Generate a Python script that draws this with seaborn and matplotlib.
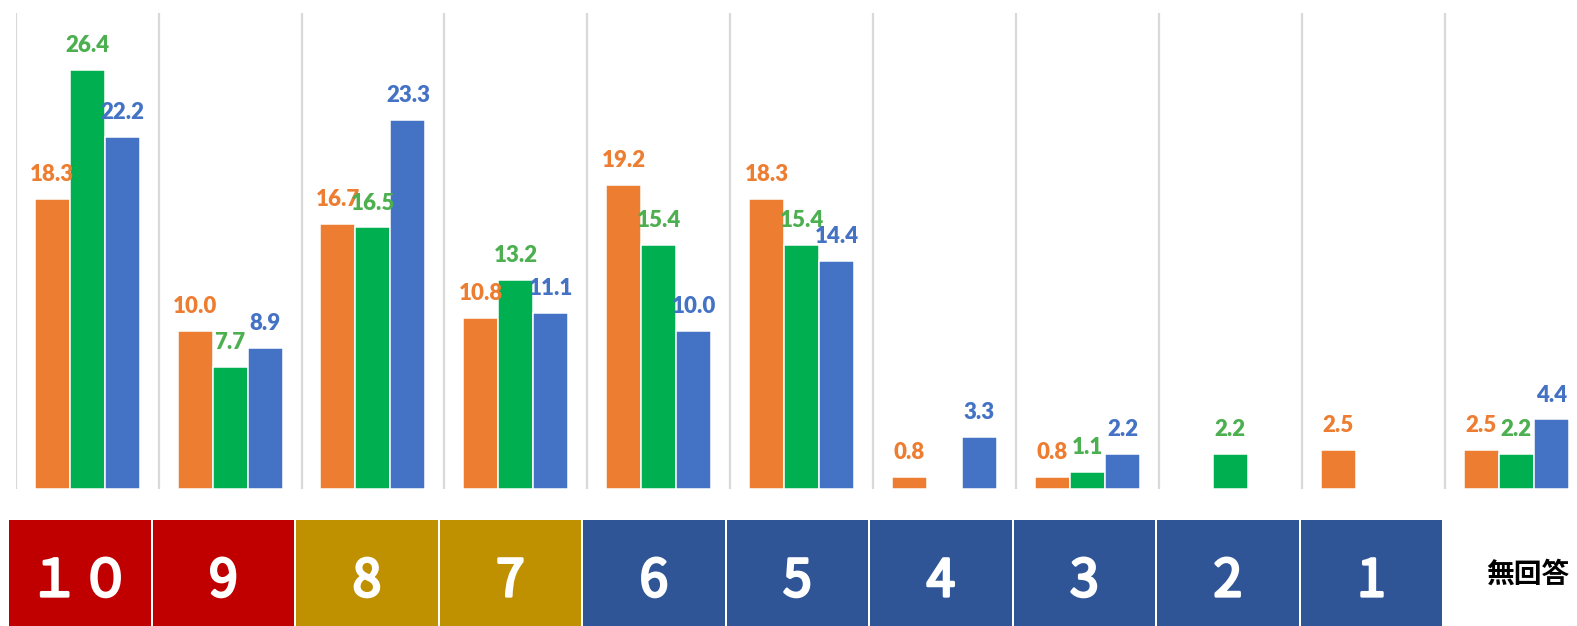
import numpy as np
import pandas as pd
import matplotlib
matplotlib.use("Agg")
import matplotlib.pyplot as plt
import matplotlib.patheffects as pe
import seaborn as sns

# ---- data ----
categories = ['10', '9', '8', '7', '6', '5', '4', '3', '2', '1', '無回答']
series_names = ['S1', 'S2', 'S3']
orange_vals = [18.3, 10.0, 16.7, 10.8, 19.2, 18.3, 0.8, 0.8, np.nan, 2.5, 2.5]
green_vals = [26.4, 7.7, 16.5, 13.2, 15.4, 15.4, np.nan, 1.1, 2.2, np.nan, 2.2]
blue_vals = [22.2, 8.9, 23.3, 11.1, 10.0, 14.4, 3.3, 2.2, np.nan, np.nan, 4.4]
box_labels = ['１０', '9', '8', '7', '6', '5', '4', '3', '2', '1']
box_fill = [1, 1, 1, 1, 1, 1, 1, 1, 1, 1]
nr_label = '無回答'

# ---- styles ----
bar_colors = ['#ED7D31', '#00B050', '#4472C4']
label_colors = ['#ED7D31', '#4CAF50', '#4472C4']
box_colors = ['#C00000', '#C00000', '#BF9000', '#BF9000',
              '#2F5597', '#2F5597', '#2F5597', '#2F5597', '#2F5597', '#2F5597']

sns.set_theme(style='white')
plt.rcParams['font.family'] = ['Lato', 'Noto Sans CJK JP', 'DejaVu Sans']

df = pd.DataFrame({
    'category': categories * 3,
    'series': [series_names[0]] * len(categories) + [series_names[1]] * len(categories)
              + [series_names[2]] * len(categories),
    'value': orange_vals + green_vals + blue_vals,
})

W, H = 1577, 626
fig = plt.figure(figsize=(W / 100, H / 100), dpi=100)

# main bar axes
ax_left, ax_right = 15.7, 15.7 + 11 * 142.9
ax_bottom, ax_top = 489.3, 13.2
ax = fig.add_axes([ax_left / W, 1 - ax_bottom / H, (ax_right - ax_left) / W, (ax_bottom - ax_top) / H])
sns.barplot(data=df, x='category', y='value', hue='series', order=categories,
            hue_order=series_names, palette=bar_colors, width=0.735,
            edgecolor='white', linewidth=1.1, saturation=1, ax=ax, legend=False)
ax.set_xlim(-0.5, len(categories) - 0.5)
ax.set_ylim(0, 30)
ax.set_xticks(np.arange(-0.5, len(categories), 1), minor=True)
ax.set_xticks([])
ax.set_yticks([])
ax.grid(False)
ax.grid(True, which='minor', axis='x', color='#D9D9D9', linewidth=1.6)
ax.tick_params(which='both', length=0)
ax.set_xlabel('')
ax.set_ylabel('')
for s in ax.spines.values():
    s.set_visible(False)

for cont, col in zip(ax.containers, label_colors):
    labels = []
    for b in cont:
        h = b.get_height()
        labels.append(f'{h:.1f}' if np.isfinite(h) and h > 0 else '')
    ax.bar_label(cont, labels=labels, padding=10, color=col, fontsize=16,
                 fontweight='heavy', family=['Lato', 'DejaVu Sans'])

# category box axes
bx_left = 8.15
bx_w = 10 * 143.5
ax2 = fig.add_axes([bx_left / W, -5 / H, bx_w / W, (626 + 5 - 520) / H])
sns.barplot(x=box_labels, y=box_fill, hue=box_labels, palette=box_colors,
            width=0.984, saturation=1, linewidth=0, ax=ax2, legend=False)
ax2.set_xlim(-0.5, len(box_labels) - 0.5)
ax2.set_ylim(0, 1)
ax2.axis('off')
for i, lab in enumerate(box_labels):
    ax2.text(i, 0.5, lab, ha='center', va='center_baseline', color='white',
             fontsize=37, fontweight='regular', family=['Noto Sans CJK JP', 'DejaVu Sans'],
             path_effects=[pe.withStroke(linewidth=2.0, foreground='white')])

fig.text(1528 / W, 1 - 575 / H, nr_label, ha='center', va='center',
         fontsize=20, fontweight='bold', color='black',
         family=['Noto Sans CJK JP', 'DejaVu Sans'])

fig.savefig('out.png', dpi=100)
